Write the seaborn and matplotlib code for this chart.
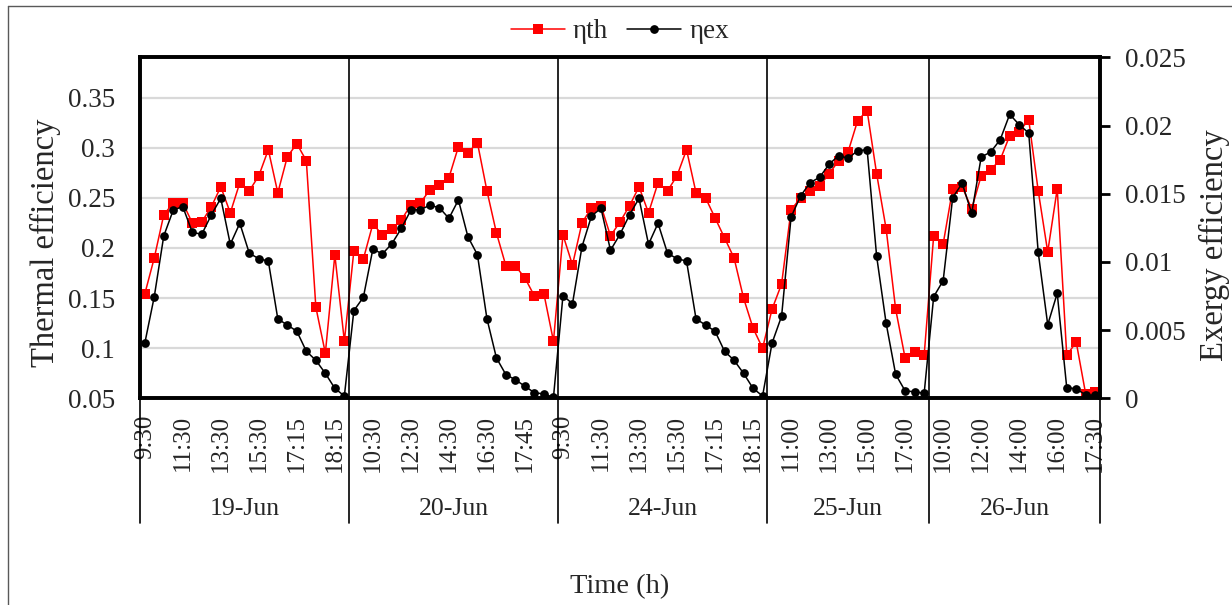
import numpy as np
import pandas as pd
import matplotlib
matplotlib.use("Agg")
import matplotlib.pyplot as plt
import seaborn as sns
from matplotlib.transforms import blended_transform_factory
from matplotlib.lines import Line2D

# ---------------- data ----------------
days = ["19-Jun", "20-Jun", "24-Jun", "25-Jun", "26-Jun"]

times_19 = ["9:30", "10:00", "10:30", "11:00", "11:30", "12:00", "12:30", "13:00", "13:30", "14:00", "14:30",
            "15:00", "15:30", "16:00", "16:30", "17:00", "17:15", "17:30", "17:45", "18:00", "18:15", "18:30"]
times_20 = ["9:30", "10:00", "10:30", "11:00", "11:30", "12:00", "12:30", "13:00", "13:30", "14:00", "14:30",
            "15:00", "15:30", "16:00", "16:30", "16:45", "17:00", "17:30", "17:45", "18:00", "18:15", "18:30"]
times_24 = ["9:30", "10:00", "10:30", "11:00", "11:30", "12:00", "12:30", "13:00", "13:30", "14:00", "14:30",
            "15:00", "15:30", "16:00", "16:30", "17:00", "17:15", "17:30", "17:45", "18:00", "18:15", "18:30"]
times_25 = ["10:00", "10:30", "11:00", "11:30", "12:00", "12:30", "13:00", "13:30", "14:00", "14:30", "15:00",
            "15:30", "16:00", "16:30", "17:00", "17:30", "18:00"]
times_26 = ["9:30", "10:00", "10:30", "11:00", "11:30", "12:00", "12:30", "13:00", "13:30", "14:00", "14:30",
            "15:00", "15:30", "16:00", "16:30", "16:45", "17:00", "17:30"]

eta_th_19 = [0.154, 0.190, 0.233, 0.245, 0.245, 0.225, 0.226, 0.241, 0.261, 0.235, 0.265,
             0.257, 0.272, 0.298, 0.255, 0.291, 0.304, 0.287, 0.141, 0.095, 0.193, 0.107]
eta_th_20 = [0.197, 0.189, 0.224, 0.213, 0.219, 0.228, 0.243, 0.245, 0.258, 0.263, 0.270,
             0.301, 0.295, 0.305, 0.257, 0.215, 0.182, 0.182, 0.170, 0.152, 0.154, 0.107]
eta_th_24 = [0.213, 0.183, 0.225, 0.240, 0.242, 0.212, 0.226, 0.242, 0.261, 0.235, 0.265,
             0.257, 0.272, 0.298, 0.255, 0.250, 0.230, 0.210, 0.190, 0.150, 0.120, 0.100]
eta_th_25 = [0.139, 0.164, 0.238, 0.250, 0.257, 0.262, 0.274, 0.287, 0.296, 0.327, 0.337,
             0.274, 0.219, 0.139, 0.090, 0.096, 0.093]
eta_th_26 = [0.212, 0.204, 0.259, 0.261, 0.239, 0.272, 0.278, 0.288, 0.312, 0.316, 0.328,
             0.257, 0.196, 0.259, 0.093, 0.106, 0.054, 0.056]

eta_ex_19 = [0.00403, 0.00745, 0.01191, 0.01381, 0.01406, 0.01218, 0.01203, 0.01345, 0.01467, 0.01130, 0.01284,
             0.01064, 0.01024, 0.01007, 0.00582, 0.00538, 0.00492, 0.00345, 0.00279, 0.00183, 0.00073, 0.00017]
eta_ex_20 = [0.00643, 0.00741, 0.01095, 0.01059, 0.01134, 0.01247, 0.01381, 0.01384, 0.01416, 0.01398, 0.01320,
             0.01455, 0.01185, 0.01053, 0.00584, 0.00296, 0.00173, 0.00136, 0.00088, 0.00041, 0.00032, 0.00007]
eta_ex_24 = [0.00753, 0.00694, 0.01112, 0.01337, 0.01394, 0.01086, 0.01203, 0.01345, 0.01467, 0.01130, 0.01284,
             0.01064, 0.01024, 0.01007, 0.00582, 0.00538, 0.00492, 0.00345, 0.00279, 0.00183, 0.00073, 0.00017]
eta_ex_25 = [0.00406, 0.00602, 0.01330, 0.01484, 0.01582, 0.01621, 0.01717, 0.01780, 0.01761, 0.01816, 0.01824,
             0.01042, 0.00550, 0.00176, 0.00054, 0.00048, 0.00037]
eta_ex_26 = [0.00745, 0.00863, 0.01472, 0.01577, 0.01357, 0.01770, 0.01807, 0.01897, 0.02083, 0.02007, 0.01946,
             0.01071, 0.00540, 0.00770, 0.00078, 0.00070, 0.00024, 0.00022]

th_ticks = [0.05, 0.10, 0.15, 0.20, 0.25, 0.30, 0.35]
th_tick_labels = ["0.05", "0.1", "0.15", "0.2", "0.25", "0.3", "0.35"]
ex_ticks = [0, 0.005, 0.010, 0.015, 0.020, 0.025]
ex_tick_labels = ["0", "0.005", "0.01", "0.015", "0.02", "0.025"]

# ---------------- table ----------------
times_all = [times_19, times_20, times_24, times_25, times_26]
th_all = [eta_th_19, eta_th_20, eta_th_24, eta_th_25, eta_th_26]
ex_all = [eta_ex_19, eta_ex_20, eta_ex_24, eta_ex_25, eta_ex_26]
rows = []
for d, t, th, ex in zip(days, times_all, th_all, ex_all):
    for ti, a, b in zip(t, th, ex):
        rows.append({"day": d, "time": ti, "eta_th": a, "eta_ex": b})
df = pd.DataFrame(rows)
df["pos"] = np.arange(len(df))
n = len(df)

# ---------------- style ----------------
sns.set_theme(style="white")
plt.rcParams["font.family"] = ["Liberation Serif", "DejaVu Serif"]

W, H = 1232, 605
fig = plt.figure(figsize=(W / 100, H / 100), dpi=100)
L, R, T, B = 140, 1100, 57.5, 398.3
ax = fig.add_axes([L / W, 1 - B / H, (R - L) / W, (B - T) / H])
ax2 = ax.twinx()

sns.lineplot(data=df, x="pos", y="eta_th", ax=ax, color="#FF0000", marker="s", markersize=6.6,
             markeredgewidth=0, linewidth=1.1, label="ηth", sort=False)
sns.lineplot(data=df, x="pos", y="eta_ex", ax=ax2, color="black", marker="o", markersize=6.3,
             markeredgewidth=0, linewidth=1.1, label="ηex", sort=False)
ax.get_legend().remove()
ax2.get_legend().remove()

ax.set_xlim(-0.5, n - 0.5)
ax.set_ylim(0.05, 0.39)
ax2.set_ylim(0, 0.025)

ax.set_yticks(th_ticks)
ax.set_yticklabels(th_tick_labels, fontsize=19.5)
ax.tick_params(axis="y", length=0, pad=18)
ax.grid(axis="y", color="#d9d9d9", linewidth=1.6)
ax.set_axisbelow(True)

ax2.set_yticks(ex_ticks)
ax2.set_yticklabels(ex_tick_labels, fontsize=19.5)
ax2.tick_params(axis="y", length=7, width=2, direction="out", pad=11, color="black")

# x ticks: every 4th category label
lab_pos = df["pos"].values[::4]
ax.set_xticks(lab_pos)
ax.set_xticklabels(df["time"].values[::4], rotation=90, fontsize=18, va="top", ha="center")
ax.tick_params(axis="x", length=0, pad=12)
ax.set_xticks(np.arange(-0.5, n - 0.5 + 1e-6, 1 / 3), minor=True)
ax.tick_params(axis="x", which="minor", length=4, width=1, direction="out", color="black")
ax.set_xlabel("")
ax.set_ylabel("")
ax2.set_ylabel("")

for a in (ax, ax2):
    for s in a.spines.values():
        s.set_color("black")
        s.set_linewidth(2.6)

# day separators and day labels
trans = blended_transform_factory(ax.transData, ax.transAxes)
bottom_y = -(523 - B) / (B - T)
counts = df.groupby("day", sort=False).size().values
edges = np.concatenate([[0], np.cumsum(counts)]) - 0.5
for e in edges:
    ax.plot([e, e], [1, bottom_y], transform=trans, color="black", lw=1.2, clip_on=False, zorder=5)
for d, a0, a1 in zip(days, edges[:-1], edges[1:]):
    ax.text((a0 + a1) / 2, -(509 - B) / (B - T), d, transform=trans, ha="center", va="center", fontsize=18.5)

# axis titles
fig.text(45 / W, 1 - 243 / H, "Thermal efficiency", rotation=90, ha="center", va="center", fontsize=23.5)
fig.text(1214 / W, 1 - 245 / H, "Exergy efficiency", rotation=90, ha="center", va="center", fontsize=23.5)
fig.text(620 / W, 1 - 587 / H, "Time (h)", ha="center", va="center", fontsize=20.5)

# legend
h1, l1 = ax.get_legend_handles_labels()
h2, l2 = ax2.get_legend_handles_labels()
fig.legend(h1 + h2, l1 + l2, loc="center", bbox_to_anchor=(620 / W, 1 - 32 / H), ncol=2, frameon=False,
           fontsize=19.5, handlelength=2.0, columnspacing=0.7, handletextpad=0.3)

# chart border (left and top visible)
fig.add_artist(Line2D([8 / W, 8 / W], [0, 1 - 6 / H], color="#595959", lw=1.0))
fig.add_artist(Line2D([8 / W, 1], [1 - 6 / H, 1 - 6 / H], color="#595959", lw=1.0))

fig.savefig("out.png", dpi=100, facecolor="white")
